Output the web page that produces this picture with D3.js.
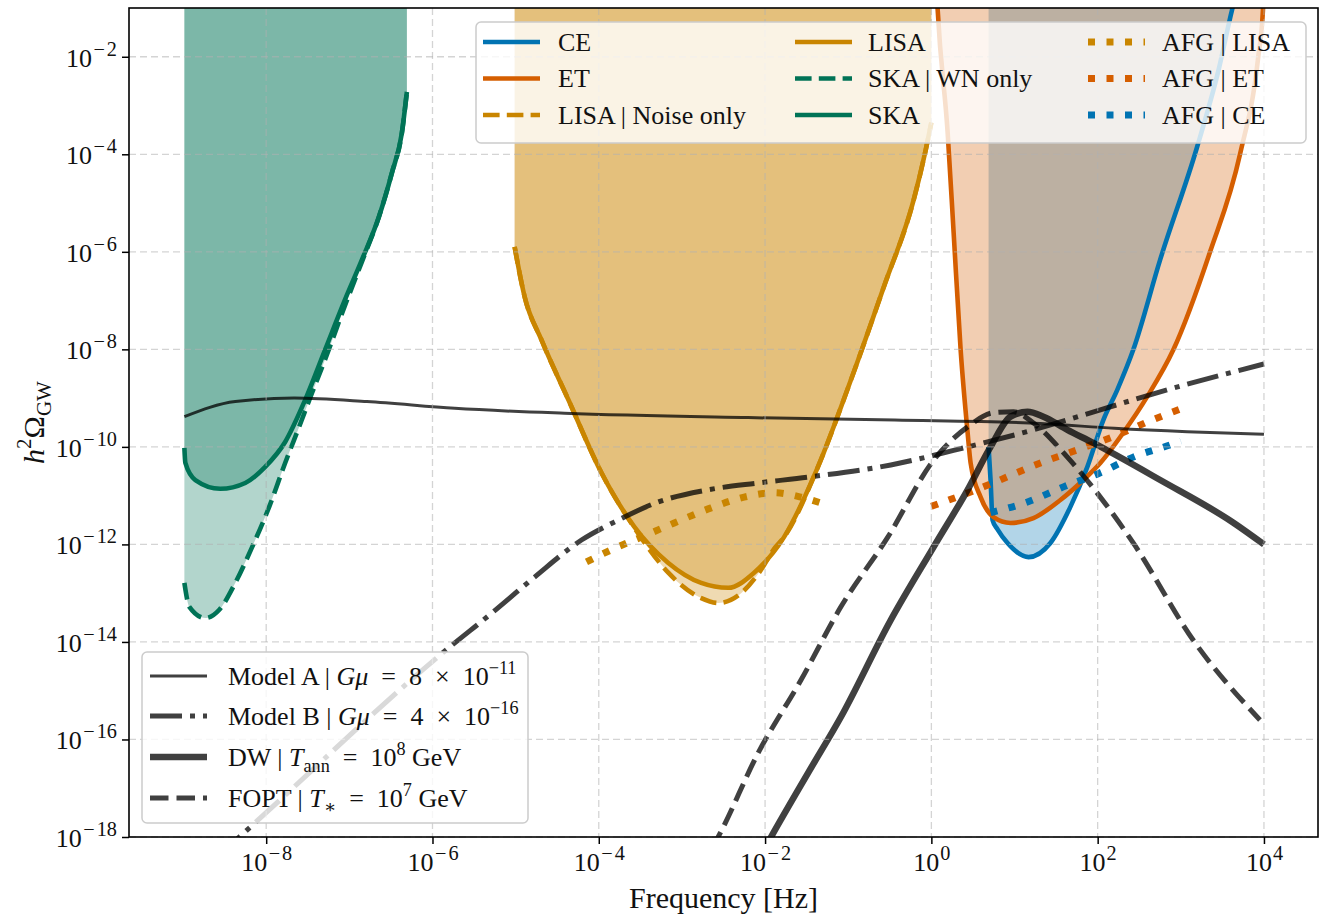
<!DOCTYPE html>
<html><head><meta charset="utf-8">
<script src="https://cdn.jsdelivr.net/npm/d3@7"></script>
<style>
body{margin:0;background:#fff}
svg{display:block}
text{font-family:"Liberation Serif","DejaVu Serif",serif;fill:#111}
</style>
</head><body>
<svg id="chart" width="1328" height="917"></svg>
<script>
// All series: [log10(f / Hz), log10(h^2 Omega_GW)]
const SKA = [[-8.984,-10.02],[-8.972,-10.33],[-8.852,-10.68],[-8.552,-10.86],[-8.252,-10.74],[-8.012,-10.41],[-7.772,-9.90],[-7.532,-9.04],[-7.292,-8.01],[-7.052,-6.98],[-6.848,-6.16],[-6.644,-5.28],[-6.488,-4.38],[-6.368,-3.56],[-6.308,-2.72]];
const SKA_WN = [[-8.984,-12.79],[-8.924,-13.28],[-8.732,-13.51],[-8.564,-13.34],[-8.372,-12.79],[-8.168,-12.05],[-7.964,-11.23],[-7.772,-10.33],[-7.604,-9.59],[-7.448,-8.89],[-7.29,-8.2],[-7.05,-7.09],[-6.848,-6.2],[-6.644,-5.28],[-6.488,-4.38],[-6.368,-3.56],[-6.308,-2.72]];
const LISA = [[-5.012,-5.90],[-4.892,-6.92],[-4.688,-7.81],[-4.364,-9.04],[-3.968,-10.53],[-3.572,-11.64],[-3.164,-12.38],[-2.768,-12.79],[-2.444,-12.89],[-2.132,-12.58],[-1.772,-11.85],[-1.364,-10.41],[-0.968,-8.63],[-0.572,-6.72],[-0.212,-4.93],[-0.068,-3.91],[0.0,-3.35]];
const LISA_NOISE = [[-5.012,-5.90],[-4.892,-6.92],[-4.688,-7.81],[-4.364,-9.04],[-3.968,-10.53],[-3.572,-11.66],[-3.488,-11.87],[-3.164,-12.58],[-2.768,-13.10],[-2.564,-13.20],[-2.288,-13.0],[-2.048,-12.52],[-1.892,-12.09],[-1.772,-11.85],[-1.364,-10.41],[-0.968,-8.63],[-0.572,-6.72],[-0.212,-4.93],[-0.068,-3.91],[0.0,-3.35]];
const CE = [[0.688,-10.0],[0.712,-10.68],[0.736,-11.50],[0.796,-11.69],[0.916,-11.97],[1.168,-12.26],[1.432,-11.97],[1.672,-11.23],[1.876,-10.41],[2.068,-9.45],[2.236,-8.83],[2.428,-8.01],[2.752,-6.16],[3.196,-3.85],[3.45,-2.3],[3.616,-1.04],[3.75,-0.2]];
const ET = [[0.06,-0.5],[0.076,-1.04],[0.196,-3.56],[0.268,-5.61],[0.352,-8.01],[0.436,-9.71],[0.472,-10.33],[0.592,-11.03],[0.748,-11.44],[0.952,-11.56],[1.228,-11.46],[1.552,-11.09],[1.828,-10.68],[2.032,-10.33],[2.308,-9.71],[2.596,-8.97],[2.91,-8.01],[3.352,-6.0],[3.712,-4.0],[3.928,-2.05],[3.988,-1.04],[4.0,-0.6]];
const AFG_LISA = [[-4.148,-12.36],[-3.848,-12.11],[-3.488,-11.85],[-3.092,-11.56],[-2.648,-11.25],[-2.252,-11.03],[-1.892,-10.94],[-1.568,-11.03],[-1.328,-11.15]];
const AFG_ET = [[0.0,-11.22],[0.628,-10.82],[1.312,-10.33],[1.756,-10.06],[2.188,-9.79],[2.596,-9.49],[3.0,-9.22]];
const AFG_CE = [[0.712,-11.35],[1.156,-11.13],[1.588,-10.82],[2.032,-10.53],[2.428,-10.21],[2.872,-9.96],[3.0,-9.88]];
const MODEL_A = [[-8.984,-9.38],[-8.372,-9.07],[-7.664,-9.00],[-6.788,-9.07],[-5.732,-9.21],[-4.412,-9.31],[-2.204,-9.40],[-0.44,-9.45],[1.312,-9.52],[2.2,-9.62],[3.076,-9.69],[4.0,-9.74]];
const MODEL_B = [[-8.6,-18.42],[-8.324,-18.0],[-5.804,-14.12],[-5.288,-13.41],[-4.772,-12.67],[-4.208,-11.91],[-3.764,-11.50],[-3.284,-11.13],[-2.684,-10.88],[-2.084,-10.74],[-1.484,-10.62],[-0.488,-10.37],[0.436,-10.0],[1.228,-9.65],[2.032,-9.24],[2.836,-8.83],[4.0,-8.3]];
const DW = [[-2.2,-18.84],[-1.928,-18.0],[-1.484,-16.69],[-1.088,-15.54],[-0.488,-13.55],[0.028,-12.05],[0.436,-10.88],[0.712,-10.0],[0.952,-9.38],[1.156,-9.28],[1.348,-9.38],[1.636,-9.65],[1.948,-9.92],[2.752,-10.68],[3.628,-11.55],[4.0,-12.0]];
const FOPT = [[-2.8,-18.7],[-2.564,-18.0],[-2.084,-16.28],[-1.568,-14.78],[-1.088,-13.28],[-0.524,-11.85],[0.028,-10.27],[0.436,-9.59],[0.748,-9.30],[0.988,-9.28],[1.228,-9.51],[1.636,-10.21],[2.032,-11.03],[2.428,-11.97],[3.148,-13.96],[3.952,-15.60]];

const X_TICK_EXP = [-8,-6,-4,-2,0,2,4];
const Y_TICK_EXP = [-18,-16,-14,-12,-10,-8,-6,-4,-2];

const C_CE = "#0173B2", C_ET = "#D55E00", C_LISA = "#C98500", C_SKA = "#007356", C_K = "#000";

const M = {left:129, right:1318, top:8, bottom:837};
const svg = d3.select("#chart");
const x = d3.scaleLog().domain([Math.pow(10,-9.65), Math.pow(10,4.65)]).range([M.left, M.right]);
const y = d3.scaleLog().domain([1e-18, 1e-1]).range([M.bottom, M.top]);
const px = d => x(Math.pow(10, d[0])), py = d => y(Math.pow(10, d[1]));

svg.append("defs").append("clipPath").attr("id","clip")
  .append("rect").attr("x",M.left).attr("y",M.top).attr("width",M.right-M.left).attr("height",M.bottom-M.top);

const plot = svg.append("g").attr("clip-path","url(#clip)");
const line = d3.line().x(px).y(py).curve(d3.curveMonotoneX);
const area = d3.area().x(px).y0(py).y1(M.top - 60).curve(d3.curveMonotoneX);

// fills
const fills = [[SKA_WN,C_SKA],[SKA,C_SKA],[LISA_NOISE,C_LISA],[LISA,C_LISA],[CE,C_CE],[ET,C_ET]];
fills.forEach(([d,c]) => plot.append("path").attr("d", area(d)).attr("fill", c).attr("fill-opacity", 0.3));

// grid
const grid = svg.append("g");
X_TICK_EXP.forEach(e => grid.append("line").attr("x1", x(Math.pow(10,e))).attr("x2", x(Math.pow(10,e)))
  .attr("y1", M.top).attr("y2", M.bottom));
Y_TICK_EXP.forEach(e => grid.append("line").attr("y1", y(Math.pow(10,e))).attr("y2", y(Math.pow(10,e)))
  .attr("x1", M.left).attr("x2", M.right));
grid.selectAll("line").attr("stroke","#b0b0b0").attr("stroke-opacity",0.55).attr("stroke-width",1.3).attr("stroke-dasharray","7,4");

// line styles
const S = {
  solid: {w:4.6, dash:null},
  dashed: {w:4.6, dash:"16.6,7.2"},
  dotted: {w:7, dash:"7,11.5"},
  modelA: {w:3, dash:null},
  modelB: {w:5, dash:"32,8,5,8"},
  dw: {w:6.5, dash:null},
  fopt: {w:5, dash:"18.5,8"}
};
function draw(d, color, st, op) {
  const p = plot.append("path").attr("d", line(d)).attr("fill","none").attr("stroke", color)
    .attr("stroke-width", st.w).attr("stroke-opacity", op == null ? 1 : op).attr("stroke-linejoin","round");
  if (st.dash) p.attr("stroke-dasharray", st.dash);
}
draw(SKA_WN, C_SKA, S.dashed);
draw(SKA, C_SKA, S.solid);
draw(LISA_NOISE, C_LISA, S.dashed);
draw(LISA, C_LISA, S.solid);
draw(CE, C_CE, S.solid);
draw(ET, C_ET, S.solid);
draw(AFG_LISA, C_LISA, S.dotted);
draw(AFG_ET, C_ET, S.dotted);
draw(AFG_CE, C_CE, S.dotted);
draw(MODEL_A, C_K, S.modelA, 0.75);
draw(MODEL_B, C_K, S.modelB, 0.75);
draw(DW, C_K, S.dw, 0.75);
draw(FOPT, C_K, S.fopt, 0.75);

// rich text helper (no dy on first tspan so the parent's dy is kept)
function rich(sel, segs, fs, supScale) {
  const sc = supScale || 0.7;
  let cur = 0;
  segs.forEach(s => {
    const off = s.sup ? -0.42*fs : (s.sub ? 0.24*fs : 0);
    const ts = sel.append("tspan").text(s.t).attr("font-size", (s.sup || s.sub) ? fs*sc : fs);
    if (off - cur !== 0) ts.attr("dy", off - cur);
    if (s.it) ts.attr("font-style","italic");
    if (s.ls) ts.attr("letter-spacing", s.ls);
    if (s.dx) ts.attr("dx", s.dx);
    cur = off;
  });
}
function tickSegs(d) {
  const e = Math.round(Math.log10(d));
  const segs = [{t:"10"}];
  if (e < 0) { segs.push({t:"\u2212", sup:true, ls:2, dx:1.5}); segs.push({t:String(-e), sup:true}); }
  else segs.push({t:String(e), sup:true, dx:1});
  return segs;
}

// axes
const TFS = 26;
const xAxis = d3.axisBottom(x).tickValues(X_TICK_EXP.map(e => Math.pow(10,e))).tickSize(7).tickPadding(6).tickFormat("");
const gx = svg.append("g").attr("transform",`translate(0,${M.bottom})`).call(xAxis);
gx.select(".domain").remove();
gx.selectAll(".tick line").attr("stroke","#000").attr("stroke-width",1.5);
gx.selectAll(".tick text").each(function(d){
  const t = d3.select(this).attr("font-size",TFS).attr("font-family",null).attr("dy","0.82em");
  rich(t, tickSegs(d), TFS, 0.78);
});
const yAxis = d3.axisLeft(y).tickValues(Y_TICK_EXP.map(e => Math.pow(10,e))).tickSize(7).tickPadding(5).tickFormat("");
const gy = svg.append("g").attr("transform",`translate(${M.left},0)`).call(yAxis);
gy.select(".domain").remove();
gy.selectAll(".tick line").attr("stroke","#000").attr("stroke-width",1.5);
gy.selectAll(".tick text").each(function(d){
  const t = d3.select(this).attr("font-size",TFS).attr("font-family",null).attr("dy","0.36em");
  rich(t, tickSegs(d), TFS, 0.78);
});

// frame
svg.append("rect").attr("x",M.left).attr("y",M.top).attr("width",M.right-M.left).attr("height",M.bottom-M.top)
  .attr("fill","none").attr("stroke","#000").attr("stroke-width",1.6);

// axis labels
const xl = svg.append("text").attr("x",(M.left+M.right)/2).attr("y",908).attr("text-anchor","middle");
rich(xl, [{t:"Frequency [Hz]"}], 30);
const yl = svg.append("text").attr("transform",`translate(44,${(M.top+M.bottom)/2}) rotate(-90)`).attr("text-anchor","middle");
rich(yl, [{t:"h",it:true},{t:"2",sup:true},{t:"\u03A9"},{t:"GW",sub:true}], 30);

// legends
const LFS = 26;
function legend(box, items, hx, tx, rows) {
  const g = svg.append("g");
  g.append("rect").attr("x",box[0]).attr("y",box[1]).attr("width",box[2]).attr("height",box[3]).attr("rx",5)
    .attr("fill","#fff").attr("fill-opacity",0.8).attr("stroke","#cccccc").attr("stroke-width",1.5);
  items.forEach((it, i) => {
    const col = Math.floor(i / rows), row = i % rows;
    const yy = it.y != null ? it.y : box[1] + 20 + row * 36.5;
    const l = g.append("line").attr("x1",hx[col]).attr("x2",hx[col]+57).attr("y1",yy).attr("y2",yy)
      .attr("stroke",it.c).attr("stroke-width",it.s.w).attr("stroke-opacity", it.op == null ? 1 : it.op);
    if (it.s.dash) l.attr("stroke-dasharray", it.s.dash);
    const t = g.append("text").attr("x",tx[col]).attr("y",yy + 0.33*LFS);
    rich(t, it.label, LFS);
  });
}
const SP = "\u2002"; // wider math spacing
legend([476,22,830,121], [
  {label:[{t:"CE"}], c:C_CE, s:S.solid},
  {label:[{t:"ET"}], c:C_ET, s:S.solid},
  {label:[{t:"LISA | Noise only"}], c:C_LISA, s:S.dashed},
  {label:[{t:"LISA"}], c:C_LISA, s:S.solid},
  {label:[{t:"SKA | WN only"}], c:C_SKA, s:S.dashed},
  {label:[{t:"SKA"}], c:C_SKA, s:S.solid},
  {label:[{t:"AFG | LISA"}], c:C_LISA, s:S.dotted},
  {label:[{t:"AFG | ET"}], c:C_ET, s:S.dotted},
  {label:[{t:"AFG | CE"}], c:C_CE, s:S.dotted}
], [483, 795, 1088], [558, 868, 1162], 3);

legend([142,652,386,171], [
  {label:[{t:"Model A | "},{t:"G\u03BC",it:true},{t:SP+"="+SP+"8"+SP+"\u00D7"+SP+"10"},{t:"\u221211",sup:true}], c:C_K, s:S.modelA, op:0.75, y:676},
  {label:[{t:"Model B | "},{t:"G\u03BC",it:true},{t:SP+"="+SP+"4"+SP+"\u00D7"+SP+"10"},{t:"\u221216",sup:true}], c:C_K, s:S.modelB, op:0.75, y:716},
  {label:[{t:"DW | "},{t:"T",it:true},{t:"ann",sub:true},{t:SP+"="+SP+"10"},{t:"8",sup:true},{t:" GeV"}], c:C_K, s:S.dw, op:0.75, y:757},
  {label:[{t:"FOPT | "},{t:"T",it:true},{t:"\u2217",sub:true},{t:SP+"="+SP+"10"},{t:"7",sup:true},{t:" GeV"}], c:C_K, s:S.fopt, op:0.75, y:798}
], [150], [228], 4);
</script>
</body></html>
